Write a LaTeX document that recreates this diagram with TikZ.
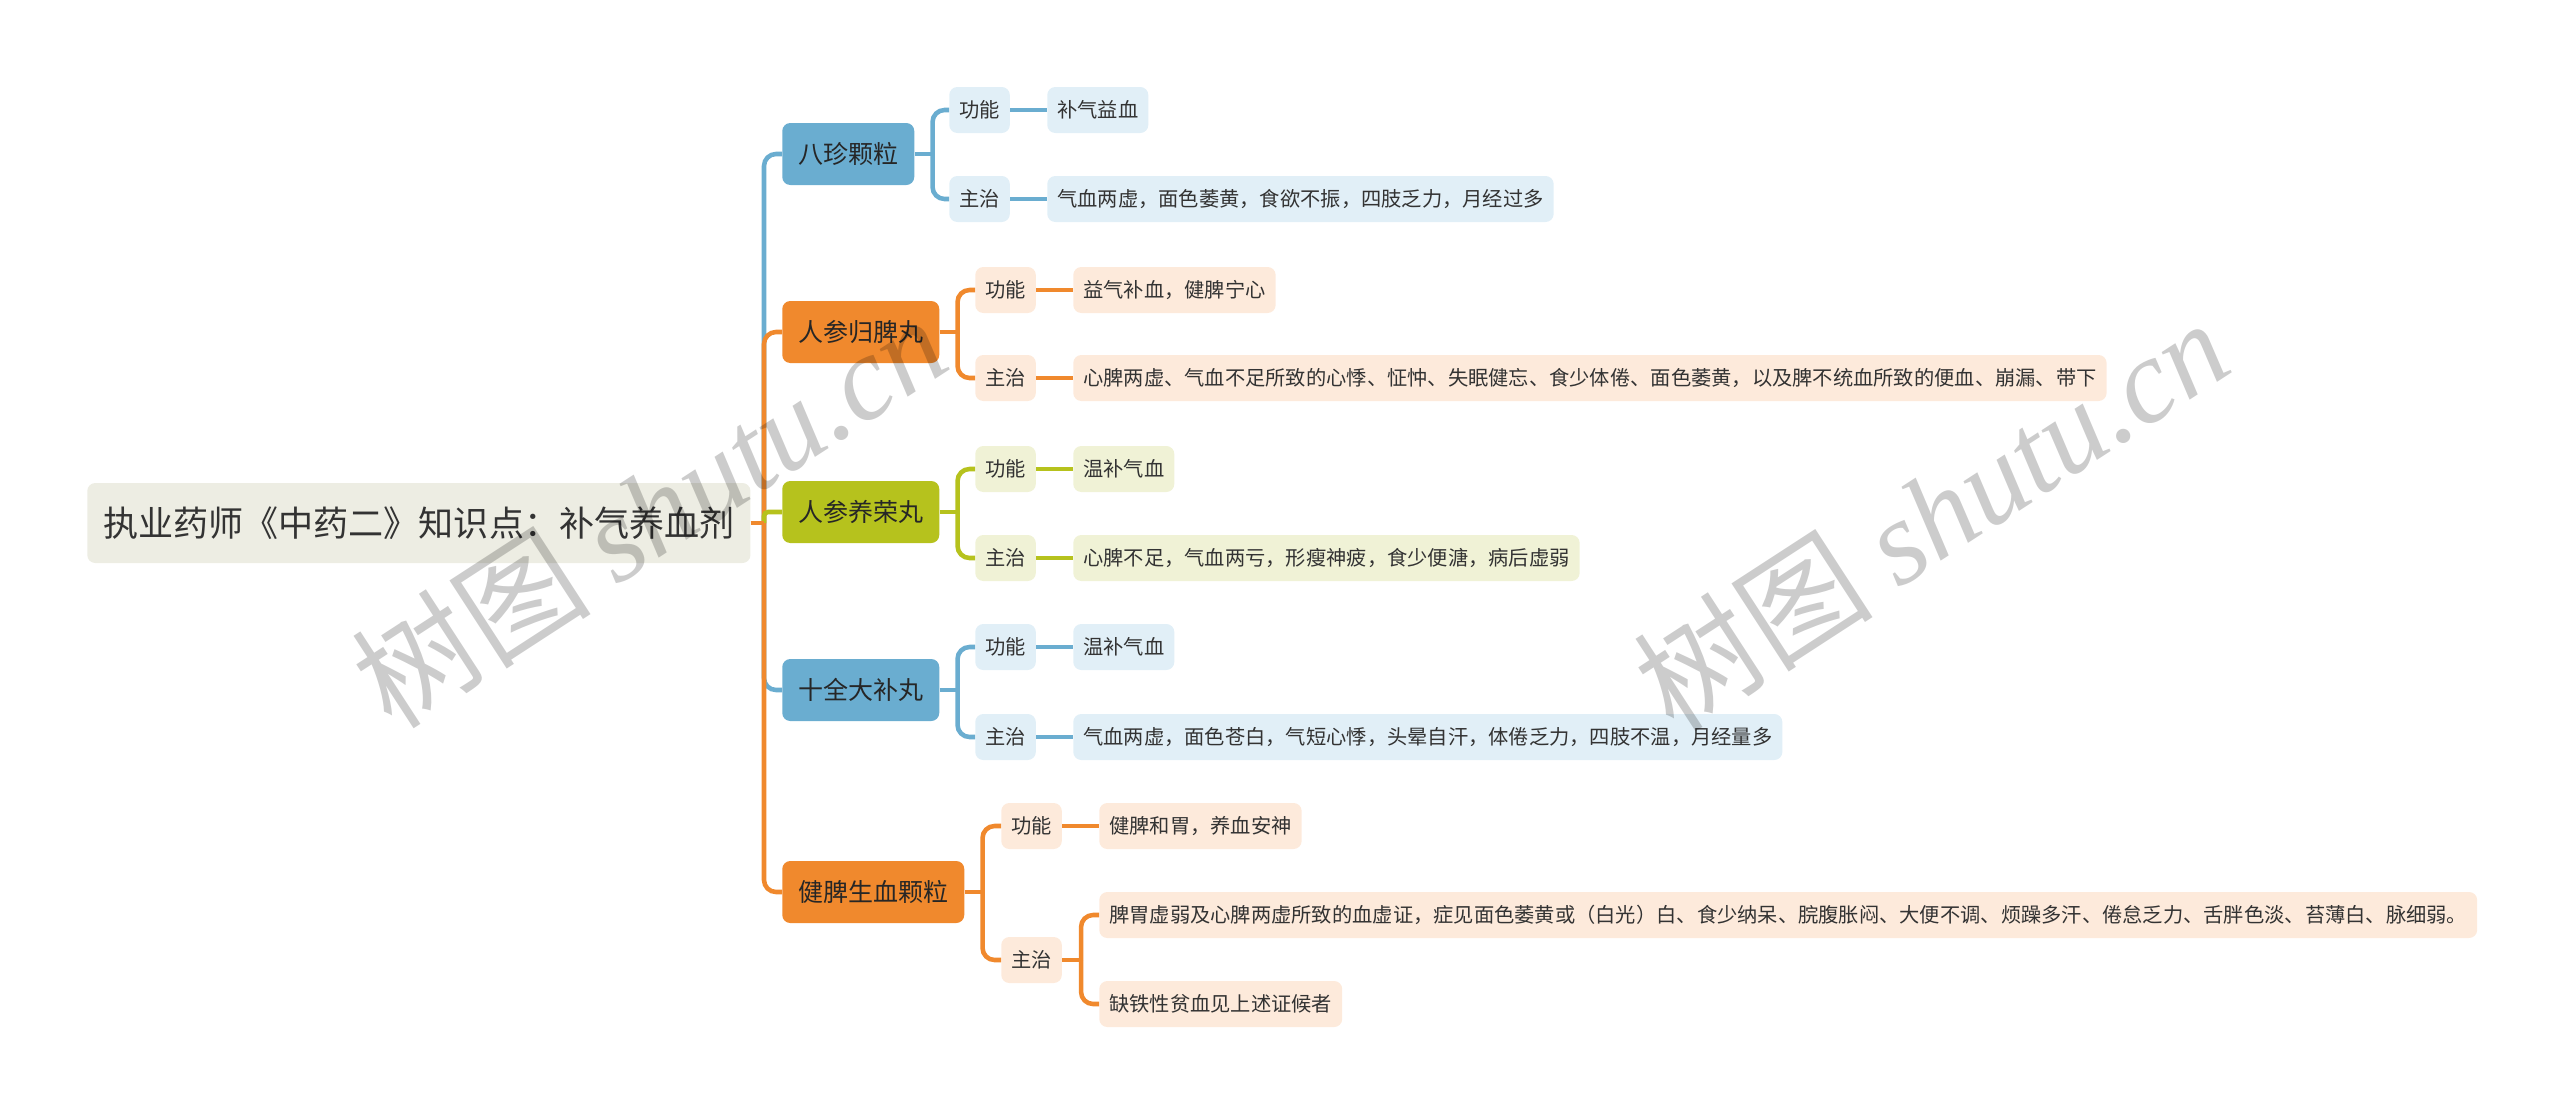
\documentclass[tikz,border=0pt]{standalone}
\usepackage{fontspec}
\setmainfont{Noto Sans CJK SC}
\newfontfamily\wmlatin{Liberation Serif}

\definecolor{bluemain}{HTML}{6AADD0}
\definecolor{orangemain}{HTML}{F0892D}
\definecolor{olivemain}{HTML}{B6C21D}
\definecolor{bluelight}{HTML}{E1EFF7}
\definecolor{orangelight}{HTML}{FDEADB}
\definecolor{olivelight}{HTML}{F0F2D6}
\definecolor{rootfill}{HTML}{EDEDE3}
\definecolor{textdark}{HTML}{333333}

\begin{document}
\begin{tikzpicture}
[
	x=0.75pt,y=-0.75pt,
	rootbox/.style={fill=rootfill,rounded corners=6pt,anchor=west,inner xsep=12pt,minimum height=60pt,text=textdark,font=\fontsize{26.3}{30}\selectfont},
	topicbox/.style={rounded corners=6pt,anchor=west,inner xsep=12pt,minimum height=46.5pt,text=black!85,font=\fontsize{18.75}{22}\selectfont},
	leafbox/.style={rounded corners=6pt,anchor=west,inner xsep=7.5pt,minimum height=34.5pt,text=textdark,font=\fontsize{15.2}{18}\selectfont},
	link/.style={line width=3.4pt,rounded corners=9pt},
	watermark/.style={rotate=33,text=black,text opacity=0.2,font=\fontsize{90}{96}\selectfont}
]

	\useasboundingbox (0,0) rectangle (2560,1114);

	% root and topics
	\node (root) [rootbox] at (87,523) {执业药师《中药二》知识点：补气养血剂};
	\node (bazhen) [topicbox,fill=bluemain] at (782,154) {八珍颗粒};
	\node (guipi) [topicbox,fill=orangemain] at (782,332) {人参归脾丸};
	\node (yangrong) [topicbox,fill=olivemain] at (782,512) {人参养荣丸};
	\node (shiquan) [topicbox,fill=bluemain] at (782,690) {十全大补丸};
	\node (jianpi) [topicbox,fill=orangemain] at (782,892) {健脾生血颗粒};

	% 八珍颗粒
	\node (bazhen-gn) [leafbox,fill=bluelight] at (949,110) {功能};
	\node (bazhen-zz) [leafbox,fill=bluelight] at (949,199) {主治};
	\node (bazhen-gn-t) [leafbox,fill=bluelight] at (1047,110) {补气益血};
	\node (bazhen-zz-t) [leafbox,fill=bluelight] at (1047,199) {气血两虚，面色萎黄，食欲不振，四肢乏力，月经过多};

	% 人参归脾丸
	\node (guipi-gn) [leafbox,fill=orangelight] at (975,290) {功能};
	\node (guipi-zz) [leafbox,fill=orangelight] at (975,378) {主治};
	\node (guipi-gn-t) [leafbox,fill=orangelight] at (1073,290) {益气补血，健脾宁心};
	\node (guipi-zz-t) [leafbox,fill=orangelight] at (1073,378) {心脾两虚、气血不足所致的心悸、怔忡、失眠健忘、食少体倦、面色萎黄，以及脾不统血所致的便血、崩漏、带下};

	% 人参养荣丸
	\node (yangrong-gn) [leafbox,fill=olivelight] at (975,469) {功能};
	\node (yangrong-zz) [leafbox,fill=olivelight] at (975,558) {主治};
	\node (yangrong-gn-t) [leafbox,fill=olivelight] at (1073,469) {温补气血};
	\node (yangrong-zz-t) [leafbox,fill=olivelight] at (1073,558) {心脾不足，气血两亏，形瘦神疲，食少便溏，病后虚弱};

	% 十全大补丸
	\node (shiquan-gn) [leafbox,fill=bluelight] at (975,647) {功能};
	\node (shiquan-zz) [leafbox,fill=bluelight] at (975,737) {主治};
	\node (shiquan-gn-t) [leafbox,fill=bluelight] at (1073,647) {温补气血};
	\node (shiquan-zz-t) [leafbox,fill=bluelight] at (1073,737) {气血两虚，面色苍白，气短心悸，头晕自汗，体倦乏力，四肢不温，月经量多};

	% 健脾生血颗粒
	\node (jianpi-gn) [leafbox,fill=orangelight] at (1001,826) {功能};
	\node (jianpi-zz) [leafbox,fill=orangelight] at (1001,960) {主治};
	\node (jianpi-gn-t) [leafbox,fill=orangelight] at (1099,826) {健脾和胃，养血安神};
	\node (jianpi-zz-a) [leafbox,fill=orangelight] at (1099,915) {脾胃虚弱及心脾两虚所致的血虚证，症见面色萎黄或（白光）白、食少纳呆、脘腹胀闷、大便不调、烦躁多汗、倦怠乏力、舌胖色淡、苔薄白、脉细弱。};
	\node (jianpi-zz-b) [leafbox,fill=orangelight] at (1099,1004) {缺铁性贫血见上述证候者};

	% trunk
	\coordinate (j0) at (764,523);
	\draw[link,bluemain] (j0) |- (bazhen.west);
	\draw[link,orangemain] (j0) |- (guipi.west);
	\draw[link,olivemain,rounded corners=3pt] (j0) |- (yangrong.west);
	\draw[link,bluemain] (j0) |- (shiquan.west);
	\draw[link,orangemain] (j0) |- (jianpi.west);
	\draw[link,orangemain] (root.east) -- (j0);

	% branches
	\foreach \br/\col in {bazhen/bluemain,guipi/orangemain,yangrong/olivemain,shiquan/bluemain,jianpi/orangemain}
	{
		\draw[link,\col] (\br.east) -- ++(18,0) coordinate (\br-j);
		\draw[link,\col] (\br-j) |- (\br-gn.west);
		\draw[link,\col] (\br-j) |- (\br-zz.west);
		\draw[link,\col] (\br-gn.east) -- (\br-gn-t.west);
	}
	\foreach \br/\col in {bazhen/bluemain,guipi/orangemain,yangrong/olivemain,shiquan/bluemain}
		\draw[link,\col] (\br-zz.east) -- (\br-zz-t.west);

	\draw[link,orangemain] (jianpi-zz.east) -- ++(19,0) coordinate (jianpi-k);
	\draw[link,orangemain] (jianpi-k) |- (jianpi-zz-a.west);
	\draw[link,orangemain] (jianpi-k) |- (jianpi-zz-b.west);

	% watermarks
	\node (wm1) [watermark] at (649,511) {树图 {\wmlatin\itshape shutu.cn}};
	\node (wm2) [watermark] at (1931,514) {树图 {\wmlatin\itshape shutu.cn}};

\end{tikzpicture}
\end{document}
